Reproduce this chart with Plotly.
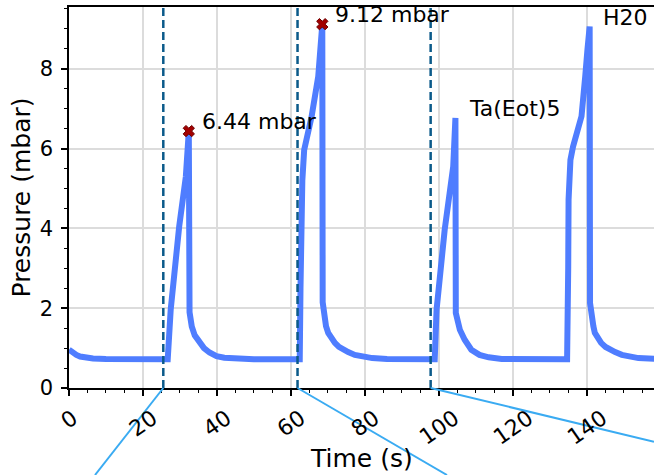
import plotly.graph_objects as go

# ---------------- data ----------------
time_s = [0, 1, 2, 3, 4.5, 6.5, 10, 15, 20, 26.7,
          27.5, 28.6, 29.8, 31.6, 32.4, 32.6,
          33.2, 34.0, 35.4, 36.5, 38.0, 39.9, 42, 46, 50, 56, 62.4,
          62.6, 62.8, 63.1, 63.6, 65.6, 67.4, 68.1, 68.5, 68.6,
          68.9, 69.5, 70.1, 71.0, 71.9, 73.0, 74.1, 75.5, 77.3, 79.1, 82, 86, 90, 94, 98.9,
          99.4, 100.4, 101.6, 103.9, 104.5, 104.6,
          105.1, 105.7, 107.0, 108.8, 111.0, 113.5, 117, 122, 128, 134.7,
          135.0, 135.1, 135.6, 136.3, 138.6, 139.3, 139.6, 140.2, 140.8, 140.9,
          141.2, 141.8, 142.2, 143.0, 143.9, 145.1, 146.2, 147.7, 149.5, 151.4, 154, 158.5]

pressure_mbar = [0.96, 0.88, 0.83, 0.79, 0.76, 0.74, 0.73, 0.72, 0.72, 0.72,
                 1.96, 2.96, 4.05, 5.30, 6.44, 1.90,
                 1.54, 1.32, 1.12, 1.00, 0.89, 0.80, 0.76, 0.73, 0.72, 0.72, 0.72,
                 2.5, 4.0, 5.2, 5.97, 6.80, 7.81, 8.48, 9.12, 2.15,
                 1.79, 1.55, 1.38, 1.24, 1.13, 1.03, 0.96, 0.90, 0.83, 0.79, 0.75, 0.73, 0.72, 0.72, 0.72,
                 1.96, 3.05, 3.97, 5.55, 6.77, 1.88,
                 1.62, 1.46, 1.21, 0.96, 0.83, 0.77, 0.73, 0.72, 0.72, 0.72,
                 3.0, 4.72, 5.72, 6.05, 6.81, 7.31, 7.81, 8.48, 9.06, 2.13,
                 1.79, 1.55, 1.38, 1.24, 1.13, 1.03, 0.96, 0.90, 0.83, 0.79, 0.75, 0.73]

peak_time = [32.4, 68.5]
peak_pressure = [6.44, 9.12]

label_text = ["Ta(Eot)5", "H20"]
label_time = [104.5, 140.8]
label_pressure = [6.77, 9.06]

pulse_start = [25.5, 61.8, 97.8]

x_ticks = [0, 20, 40, 60, 80, 100, 120, 140]
y_ticks = [0, 2, 4, 6, 8]

# ---------------- layout geometry ----------------
W, H = 654, 475
ML, MR, MT, MB = 69, 0, 7, 87
PW, PH = W - ML - MR, H - MT - MB
X_RANGE = [0, 158.2]
Y_RANGE = [0, 9.55]
FONT = "DejaVu Sans"


def xpaper(t):
    return (t - X_RANGE[0]) / (X_RANGE[1] - X_RANGE[0])


def pix(px, py):
    return (px - ML) / PW, (H - MB - py) / PH


fig = go.Figure()

fig.add_trace(go.Scatter(x=time_s, y=pressure_mbar, mode="lines",
                         line=dict(color="#4f7dff", width=6),
                         hoverinfo="skip", showlegend=False))

fig.add_trace(go.Scatter(x=peak_time, y=peak_pressure, mode="markers",
                         marker=dict(symbol="x", size=10, color="#a30000",
                                     line=dict(color="#6e0000", width=1)),
                         hoverinfo="skip", showlegend=False))

# dashed pulse start lines
for t in pulse_start:
    fig.add_shape(type="line", xref="x", yref="paper", x0=t, x1=t, y0=0, y1=1,
                  line=dict(color="#0b5a8a", width=2.5, dash="8px,4px"), layer="above")

# connector lines below the axis
conn_end_px = [(95, 475), (447, 475), (654, 441.7)]
for t, (ex, ey) in zip(pulse_start, conn_end_px):
    px1, py1 = pix(ex, ey)
    fig.add_shape(type="line", xref="paper", yref="paper",
                  x0=xpaper(t), y0=0, x1=px1, y1=py1,
                  line=dict(color="#3aabf2", width=2), layer="above")

annotations = []
# peak labels
for t, p in zip(peak_time, peak_pressure):
    annotations.append(dict(x=t + 3, y=p, xref="x", yref="y", text=f"{p:.2f} mbar",
                            showarrow=False, xanchor="left", yanchor="bottom", yshift=-5,
                            font=dict(family=FONT, size=22, color="black")))
for txt, t, p in zip(label_text, label_time, label_pressure):
    annotations.append(dict(x=t + 3, y=p, xref="x", yref="y", text=txt,
                            showarrow=False, xanchor="left", yanchor="bottom", yshift=-5,
                            font=dict(family=FONT, size=22, color="black")))
# rotated x tick labels
for v in x_ticks:
    annotations.append(dict(x=v, y=0, xref="x", yref="paper", text=str(v),
                            showarrow=False, xanchor="center", yanchor="top",
                            textangle=-35, yshift=-14,
                            font=dict(family=FONT, size=22, color="black")))
# axis titles
tx, ty = pix(362, 475)
annotations.append(dict(x=0.5, y=ty, xref="paper", yref="paper", text="Time (s)",
                        showarrow=False, xanchor="center", yanchor="bottom",
                        font=dict(family=FONT, size=25, color="black")))
lx, _ = pix(21, 0)
annotations.append(dict(x=lx, y=0.5, xref="paper", yref="paper", text="Pressure (mbar)",
                        showarrow=False, xanchor="center", yanchor="middle", textangle=-90,
                        font=dict(family=FONT, size=25, color="black")))

axis_common = dict(showline=True, linecolor="black", linewidth=1.5,
                   ticks="outside", ticklen=6, tickwidth=1.5, tickcolor="black",
                   showgrid=True, gridcolor="#dcdcdc", gridwidth=1.5, zeroline=False)

fig.update_layout(
    width=W, height=H,
    margin=dict(l=ML, r=MR, t=MT, b=MB, pad=0),
    paper_bgcolor="white", plot_bgcolor="white",
    font=dict(family=FONT, color="black"),
    annotations=annotations,
    xaxis=dict(range=X_RANGE, tickvals=x_ticks, showticklabels=False, mirror=True,
               minor=dict(dtick=5, ticks="outside", ticklen=3.5, tickwidth=1.2,
                          tickcolor="black", showgrid=False),
               **axis_common),
    yaxis=dict(range=Y_RANGE, tickvals=y_ticks, tickfont=dict(family=FONT, size=21),
               ticklabelstandoff=4,
               minor=dict(dtick=0.5, ticks="outside", ticklen=3.5, tickwidth=1.2,
                          tickcolor="black", showgrid=False),
               **axis_common),
)

fig.write_html("out.html")
